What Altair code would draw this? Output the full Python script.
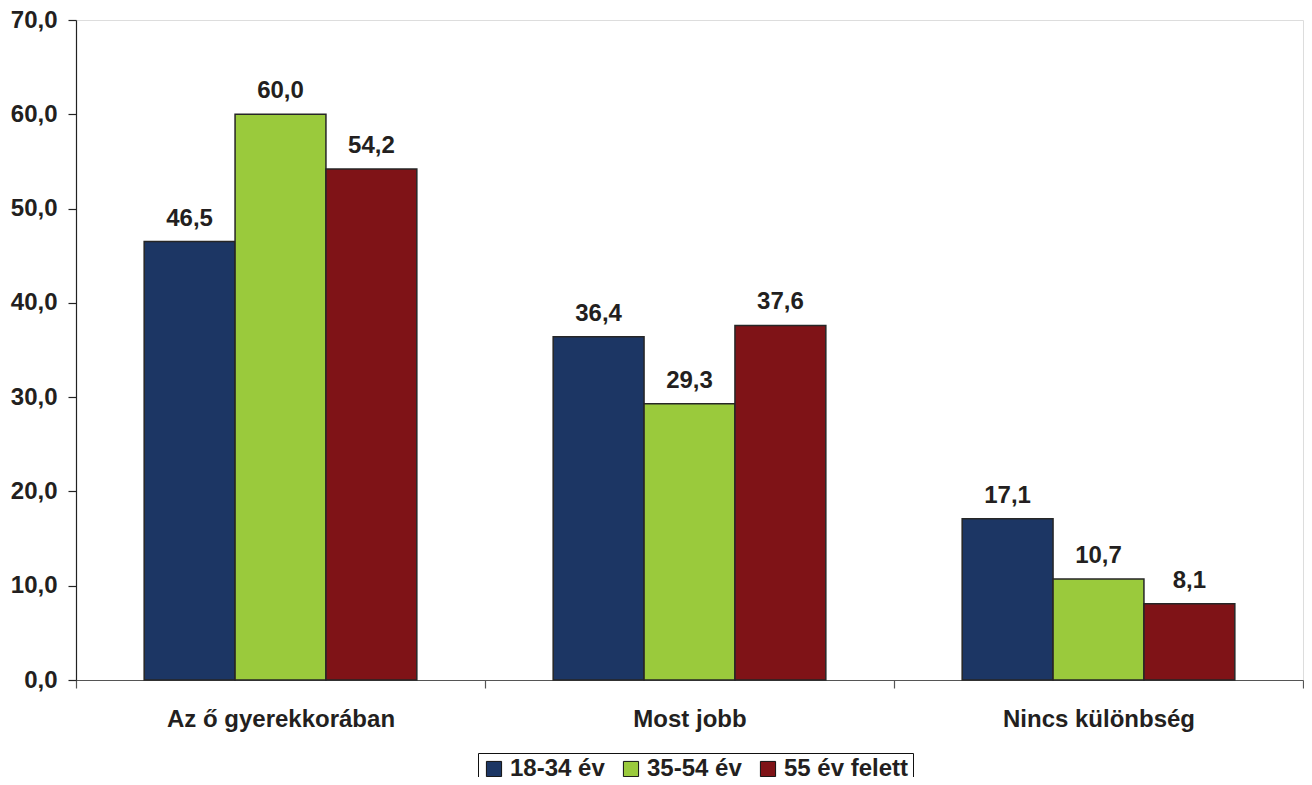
import altair as alt
import pandas as pd

categories = ["Az ő gyerekkorában", "Most jobb", "Nincs különbség"]
groups = ["18-34 év", "35-54 év", "55 év felett"]
values_18_34 = [46.5, 36.4, 17.1]
values_35_54 = [60.0, 29.3, 10.7]
values_55 = [54.2, 37.6, 8.1]
colors = ["#1c3664", "#9aca3c", "#7f1317"]

rows = []
for g, vals in zip(groups, [values_18_34, values_35_54, values_55]):
    for c, v in zip(categories, vals):
        rows.append({"cat": c, "grp": g, "val": v})
df = pd.DataFrame(rows)

FONT = "Liberation Sans"
TXT = "#231f20"

x = alt.X("cat:N", sort=categories, title=None,
          scale=alt.Scale(paddingInner=0, paddingOuter=0),
          axis=alt.Axis(labelAngle=0, tickBand="extent", tickSize=8,
                        labelPadding=19, labelFontSize=24, labelFontWeight="bold",
                        labelFont=FONT, labelColor=TXT, domainColor="#555555",
                        tickColor="#555555", domainWidth=1.2, tickWidth=1.2,
                        labelLimit=0))
xo = alt.XOffset("grp:N", sort=groups,
                 scale=alt.Scale(paddingOuter=0.75, paddingInner=0))
y = alt.Y("val:Q", title=None,
          scale=alt.Scale(domain=[0, 70], nice=False),
          axis=alt.Axis(values=[0, 10, 20, 30, 40, 50, 60, 70], grid=False,
                        tickSize=8, labelPadding=11, labelFontSize=24,
                        labelFontWeight="bold", labelFont=FONT, labelColor=TXT,
                        domainColor="#222222", tickColor="#222222",
                        domainWidth=1.2, tickWidth=1.2,
                        labelExpr="replace(format(datum.value, '.1f'), '.', ',')"))

bars = alt.Chart(df).mark_bar(stroke="#262626", strokeWidth=1.5).encode(
    x=x, xOffset=xo, y=y,
    color=alt.Color("grp:N", sort=groups, title=None,
                    scale=alt.Scale(domain=groups, range=colors),
                    legend=alt.Legend(orient="none", legendX=402, legendY=733,
                                      direction="horizontal", symbolType="square",
                                      symbolSize=230, symbolStrokeColor="#111111",
                                      symbolStrokeWidth=1, labelFontSize=24,
                                      labelFontWeight="bold", labelFont=FONT,
                                      labelColor=TXT, strokeColor="#111111",
                                      padding=4, columnPadding=14, labelOffset=4,
                                      labelLimit=0)),
)

text = alt.Chart(df).transform_calculate(
    lbl="replace(format(datum.val, '.1f'), '.', ',')"
).mark_text(dy=-16, baseline="alphabetic", fontSize=24, fontWeight="bold",
            font=FONT, color=TXT).encode(
    x=alt.X("cat:N", sort=categories), xOffset=alt.XOffset("grp:N", sort=groups),
    y=alt.Y("val:Q"), text="lbl:N")

chart = alt.layer(bars, text).properties(
    width=1227, height=660,
    autosize=alt.AutoSizeParams(type="none"),
    padding={"left": 68, "top": 12, "right": 1, "bottom": 97},
).configure_view(stroke=None).configure(background="white")

chart.save("out.html", embed_options={"renderer": "svg", "actions": False})
